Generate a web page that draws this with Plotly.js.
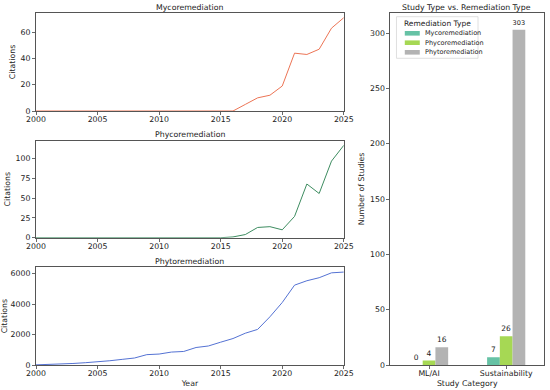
<!DOCTYPE html>
<html>
<head>
<meta charset="utf-8">
<script src="https://cdn.plot.ly/plotly-3.0.1.min.js"></script>
<style>html,body{margin:0;padding:0;background:#fff}#chart{width:550px;height:390px}</style>
</head>
<body>
<div id="chart"></div>
<script>
const years = [2000,2001,2002,2003,2004,2005,2006,2007,2008,2009,2010,2011,2012,2013,2014,2015,2016,2017,2018,2019,2020,2021,2022,2023,2024,2025];
const mycoCitations = [0,0,0,0,0,0,0,0,0,0,0,0,0,0,0,0,0,5,10,12,19,44,43,47,63,71];
const phycoCitations = [0,0,0,0,0,0,0,0,0,0,0,0,0,0,0,0,1,4,13,14,10,27,68,56,97,117];
const phytoCitations = [10,30,60,100,150,200,280,370,460,680,720,850,890,1150,1250,1500,1740,2090,2340,3170,4110,5250,5540,5740,6060,6110];

const studyCategories = ["ML/AI", "Sustainability"];
const remediationTypes = ["Mycoremediation", "Phycoremediation", "Phytoremediation"];
const studyCounts = {
  Mycoremediation: [0, 7],
  Phycoremediation: [4, 26],
  Phytoremediation: [16, 303]
};
const barColors = ["#66c2a5", "#a6d854", "#b3b3b3"];
const lineColors = ["#ec7455", "#3d8c60", "#5472d3"];

const FONT = "DejaVu Sans, Arial, sans-serif";
const FS = 7.8;
const axisBase = {
  showline: true, mirror: true, linecolor: "#555", linewidth: 1,
  showgrid: false, zeroline: false,
  ticks: "outside", ticklen: 3, tickwidth: 0.8, tickcolor: "#444",
  tickfont: {size: FS, color: "#222", family: FONT}
};

const traces = [];
const citationSets = [mycoCitations, phycoCitations, phytoCitations];
const axIds = [["x", "y"], ["x2", "y2"], ["x3", "y3"]];
citationSets.forEach((vals, i) => {
  traces.push({
    type: "scatter", mode: "lines", x: years, y: vals,
    xaxis: axIds[i][0], yaxis: axIds[i][1],
    line: {color: lineColors[i], width: 1}, showlegend: false, hoverinfo: "skip"
  });
});
remediationTypes.forEach((t, i) => {
  traces.push({
    type: "bar", name: t, x: [0, 1], y: studyCounts[t],
    xaxis: "x4", yaxis: "y4",
    marker: {color: barColors[i]},
    texttemplate: "%{y}", textposition: "outside", cliponaxis: false,
    textfont: {size: 7.5, color: "#222", family: FONT},
    showlegend: false
  });
});

const yearAxis = (anchor, withTitle) => Object.assign({}, axisBase, {
  domain: [0, 0.6059], anchor: anchor, range: [2000, 2025],
  tickvals: [2000, 2005, 2010, 2015, 2020, 2025], tickformat: "d",
  ticklabelstandoff: -2,
  title: withTitle ? {text: "Year", font: {size: FS, color: "#222", family: FONT}, standoff: 3} : {text: ""}
});
const citeTitle = {text: "Citations", font: {size: FS, color: "#222", family: FONT}, standoff: 3};

// legend drawn in paper coordinates (pixel -> paper helpers)
const px = v => (v - 36) / 508.3;
const py = v => (365 - v) / 352;
const shapes = [
  {type: "rect", xref: "paper", yref: "paper", x0: px(396.7), x1: px(478.3), y0: py(58.3), y1: py(16.7),
   line: {color: "#d8d8d8", width: 0.8}, fillcolor: "rgba(255,255,255,0.85)", layer: "above"}
];
const annotations = [
  {text: "Mycoremediation", xref: "paper", yref: "paper", x: 0.303, y: 1.017, xanchor: "center", yanchor: "middle", showarrow: false, font: {size: FS, color: "#222", family: FONT}},
  {text: "Phycoremediation", xref: "paper", yref: "paper", x: 0.303, y: 0.6543, xanchor: "center", yanchor: "middle", showarrow: false, font: {size: FS, color: "#222", family: FONT}},
  {text: "Phytoremediation", xref: "paper", yref: "paper", x: 0.303, y: 0.2935, xanchor: "center", yanchor: "middle", showarrow: false, font: {size: FS, color: "#222", family: FONT}},
  {text: "Study Type vs. Remediation Type", xref: "paper", yref: "paper", x: 0.848, y: 1.017, xanchor: "center", yanchor: "middle", showarrow: false, font: {size: FS, color: "#222", family: FONT}},
  {text: "Remediation Type", xref: "paper", yref: "paper", x: px(437.5), y: py(23), xanchor: "center", yanchor: "middle", showarrow: false, font: {size: 7.5, color: "#222", family: FONT}}
];
const rowY = [33.3, 42.7, 52.3];
remediationTypes.forEach((t, i) => {
  shapes.push({type: "rect", xref: "paper", yref: "paper", x0: px(405), x1: px(420), y0: py(rowY[i] + 2.3), y1: py(rowY[i] - 2.3),
    line: {width: 0}, fillcolor: barColors[i], layer: "above"});
  annotations.push({text: t, xref: "paper", yref: "paper", x: px(423.5), y: py(rowY[i]), xanchor: "left", yanchor: "middle",
    showarrow: false, font: {size: 6.5, color: "#222", family: FONT}});
});

const layout = {
  width: 550, height: 390,
  margin: {l: 36, r: 6, t: 13, b: 25},
  paper_bgcolor: "#fff", plot_bgcolor: "#fff",
  font: {family: FONT, size: FS, color: "#222"},
  barmode: "group", bargap: 0.505, bargroupgap: 0,
  showlegend: false,
  xaxis: yearAxis("y", false),
  yaxis: Object.assign({}, axisBase, {domain: [0.7216, 1], anchor: "x", range: [0, 74.55], tickvals: [0, 20, 40, 60], title: citeTitle}),
  xaxis2: yearAxis("y2", false),
  yaxis2: Object.assign({}, axisBase, {domain: [0.3616, 0.6372], anchor: "x2", range: [0, 122.85], tickvals: [0, 25, 50, 75, 100], title: citeTitle}),
  xaxis3: yearAxis("y3", true),
  yaxis3: Object.assign({}, axisBase, {domain: [0, 0.2776], anchor: "x3", range: [0, 6425], tickvals: [0, 2000, 4000, 6000], tickformat: "d", title: citeTitle}),
  xaxis4: Object.assign({}, axisBase, {domain: [0.6978, 1], anchor: "y4", range: [-0.5, 1.49],
    tickvals: [0, 1], ticktext: studyCategories, ticklabelstandoff: -2,
    title: {text: "Study Category", font: {size: FS, color: "#222", family: FONT}, standoff: 3}}),
  yaxis4: Object.assign({}, axisBase, {domain: [0, 1], anchor: "x4", range: [0, 318.15],
    tickvals: [0, 50, 100, 150, 200, 250, 300],
    title: {text: "Number of Studies", font: {size: FS, color: "#222", family: FONT}, standoff: 4}}),
  shapes: shapes,
  annotations: annotations
};

Plotly.newPlot("chart", traces, layout, {staticPlot: true, displayModeBar: false});
</script>
</body>
</html>
